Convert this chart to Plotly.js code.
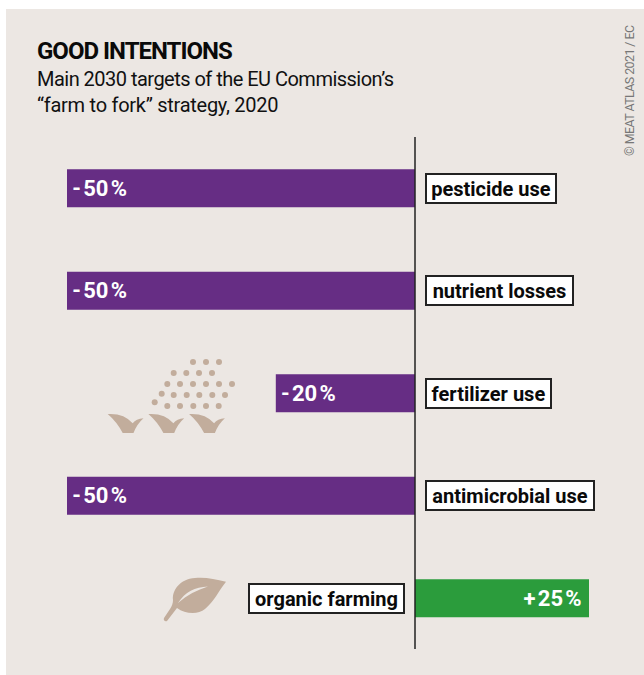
<!DOCTYPE html>
<html>
<head>
<meta charset="utf-8">
<script src="https://cdn.plot.ly/plotly-3.0.1.min.js"></script>
<style>html,body{margin:0;padding:0;background:#fff}</style>
</head>
<body>
<div id="chart" style="width:644px;height:675px"></div>
<script>
const categories = ["pesticide use", "nutrient losses", "fertilizer use", "antimicrobial use", "organic farming"];
const values = [-50, -50, -20, -50, 25];
const valueLabels = ["\u200a-\u200a50\u200a%", "\u200a-\u200a50\u200a%", "\u200a-\u200a20\u200a%", "\u200a-\u200a50\u200a%", "+\u200a25\u200a%\u2009"];
const titleText = "GOOD INTENTIONS";
const subtitleLines = ["Main 2030 targets of the EU Commission’s", "“farm to fork” strategy, 2020"];
const subtitleTracking = [-0.52, -0.27];
const sourceText = "© MEAT ATLAS 2021 / EC";
const labelBoxInnerWidths = [125, 142, 120, 163, 150];

const W = 644, H = 675;
const PURPLE = "#662d84", GREEN = "#2b9c3c", BG = "#ece7e3", ICON = "#c2ad9c", INK = "#0a0a0a";
const FONT = 'Roboto,"Liberation Sans",sans-serif';
const tracked = (s, px) => `<span style="letter-spacing:${px}px">${s}</span>`;

// Decorative pictograms
const seedDots = [[193,362],[206,362],[219,362],[173.7,373],[186.3,373],[199,373],[212,373],
  [167.3,384],[180,384],[193,384],[206,384],[219,384],[232,384],
  [161.7,393.7],[173.7,395],[186.7,395],[199.3,395],[212.3,395],[225,395],
  [154.7,402.3],[167.3,406],[180,406],[193.3,406],[206,406],[218.7,406]];
const sproutOffsets = [0, 40.7, 81.4];
const sprout = dx => `<path transform="translate(${dx} 0)" d="M107.7,414 Q124,413 132.7,423.3 Q136,419 143.5,418.3 Q137,424 133.5,433 L122.7,433 Q117,422 107.7,414 Z"/>`;
const svg = `<svg xmlns="http://www.w3.org/2000/svg" width="${W}" height="${H}" viewBox="0 0 ${W} ${H}"><g fill="${ICON}">`
  + seedDots.map(d => `<circle cx="${d[0]}" cy="${d[1]}" r="3"/>`).join("")
  + sproutOffsets.map(sprout).join("")
  + `<path d="M226,581.7 C215,579 205,577 195,578 C180,579 172,590 173,600 C173,603 172,606 170,609 L164,618 C163,620 165,622 167,621 L177,608 C185,614 198,615 205,609 C215,600 218,592 226,581.7 Z"/>`
  + `<path fill="${BG}" d="M178,603 C185,592 195,587 208,586.5 C197,590 187,595 178,603 Z"/>`
  + `</g></svg>`;

const pxPerUnit = 6.96, zeroPx = 415, firstRowPx = 188.2, rowPx = 102.5;

const trace = {
  type: "bar", orientation: "h",
  x: values, y: categories,
  width: 38 / rowPx,
  marker: {color: values.map(v => v < 0 ? PURPLE : GREEN), line: {width: 0}},
  text: valueLabels,
  textposition: "inside",
  insidetextanchor: "end",
  textangle: 0,
  constraintext: "none",
  insidetextfont: {family: FONT, size: 22, color: "#fff", weight: 700},
  hoverinfo: "skip"
};

const labelAnn = (c, i) => ({
  xref: "x", yref: "y", x: (values[i] < 0 ? 1 : -1) * 10 / pxPerUnit, y: c,
  xanchor: values[i] < 0 ? "left" : "right", yanchor: "middle",
  text: c, showarrow: false, width: labelBoxInnerWidths[i],
  font: {family: FONT, size: 20, color: INK, weight: 700},
  bgcolor: "#fff", bordercolor: "#222", borderwidth: 2, borderpad: 1.5
});

const layout = {
  width: W, height: H,
  margin: {l: 0, r: 0, t: 0, b: 0, pad: 0},
  paper_bgcolor: "#fff", plot_bgcolor: "rgba(0,0,0,0)",
  showlegend: false,
  xaxis: {range: [-zeroPx / pxPerUnit, (W - zeroPx) / pxPerUnit], visible: false, fixedrange: true},
  yaxis: {type: "category", categoryorder: "array", categoryarray: categories,
          range: [(H - firstRowPx) / rowPx, -firstRowPx / rowPx], visible: false, fixedrange: true},
  shapes: [
    {type: "rect", layer: "below", xref: "paper", yref: "paper", x0: 6 / W, x1: 1, y0: 0, y1: 1 - 9 / H,
     fillcolor: BG, line: {width: 0}},
    {type: "line", layer: "above", xref: "x", yref: "paper", x0: 0, x1: 0, y0: 1 - 137 / H, y1: 1 - 649 / H,
     line: {color: "#222", width: 1.5}}
  ],
  images: [{source: "data:image/svg+xml;charset=utf-8," + encodeURIComponent(svg),
    xref: "paper", yref: "paper", x: 0, y: 1, sizex: 1, sizey: 1, sizing: "stretch",
    xanchor: "left", yanchor: "top", layer: "above"}],
  annotations: categories.map(labelAnn).concat([
    {xref: "paper", yref: "paper", x: 35.5 / W, y: 1 - 36 / H, xanchor: "left", yanchor: "top", align: "left",
     text: tracked(titleText, -1), showarrow: false, borderpad: 0,
     font: {family: FONT, size: 24, color: INK, weight: 700}},
    {xref: "paper", yref: "paper", x: 36 / W, y: 1 - 66 / H, xanchor: "left", yanchor: "top", align: "left",
     text: subtitleLines.map((s, i) => tracked(s, subtitleTracking[i])).join("<br>"), showarrow: false, borderpad: 0,
     font: {family: FONT, size: 20, color: "#111"}},
    {xref: "paper", yref: "paper", x: 629 / W, y: 1 - 91 / H, xanchor: "center", yanchor: "middle",
     text: tracked(sourceText, -0.6), showarrow: false, textangle: -90, borderpad: 0,
     font: {family: FONT, size: 12.5, color: "#777"}}
  ])
};

Plotly.newPlot("chart", [trace], layout, {displayModeBar: false, staticPlot: true});
</script>
</body>
</html>
